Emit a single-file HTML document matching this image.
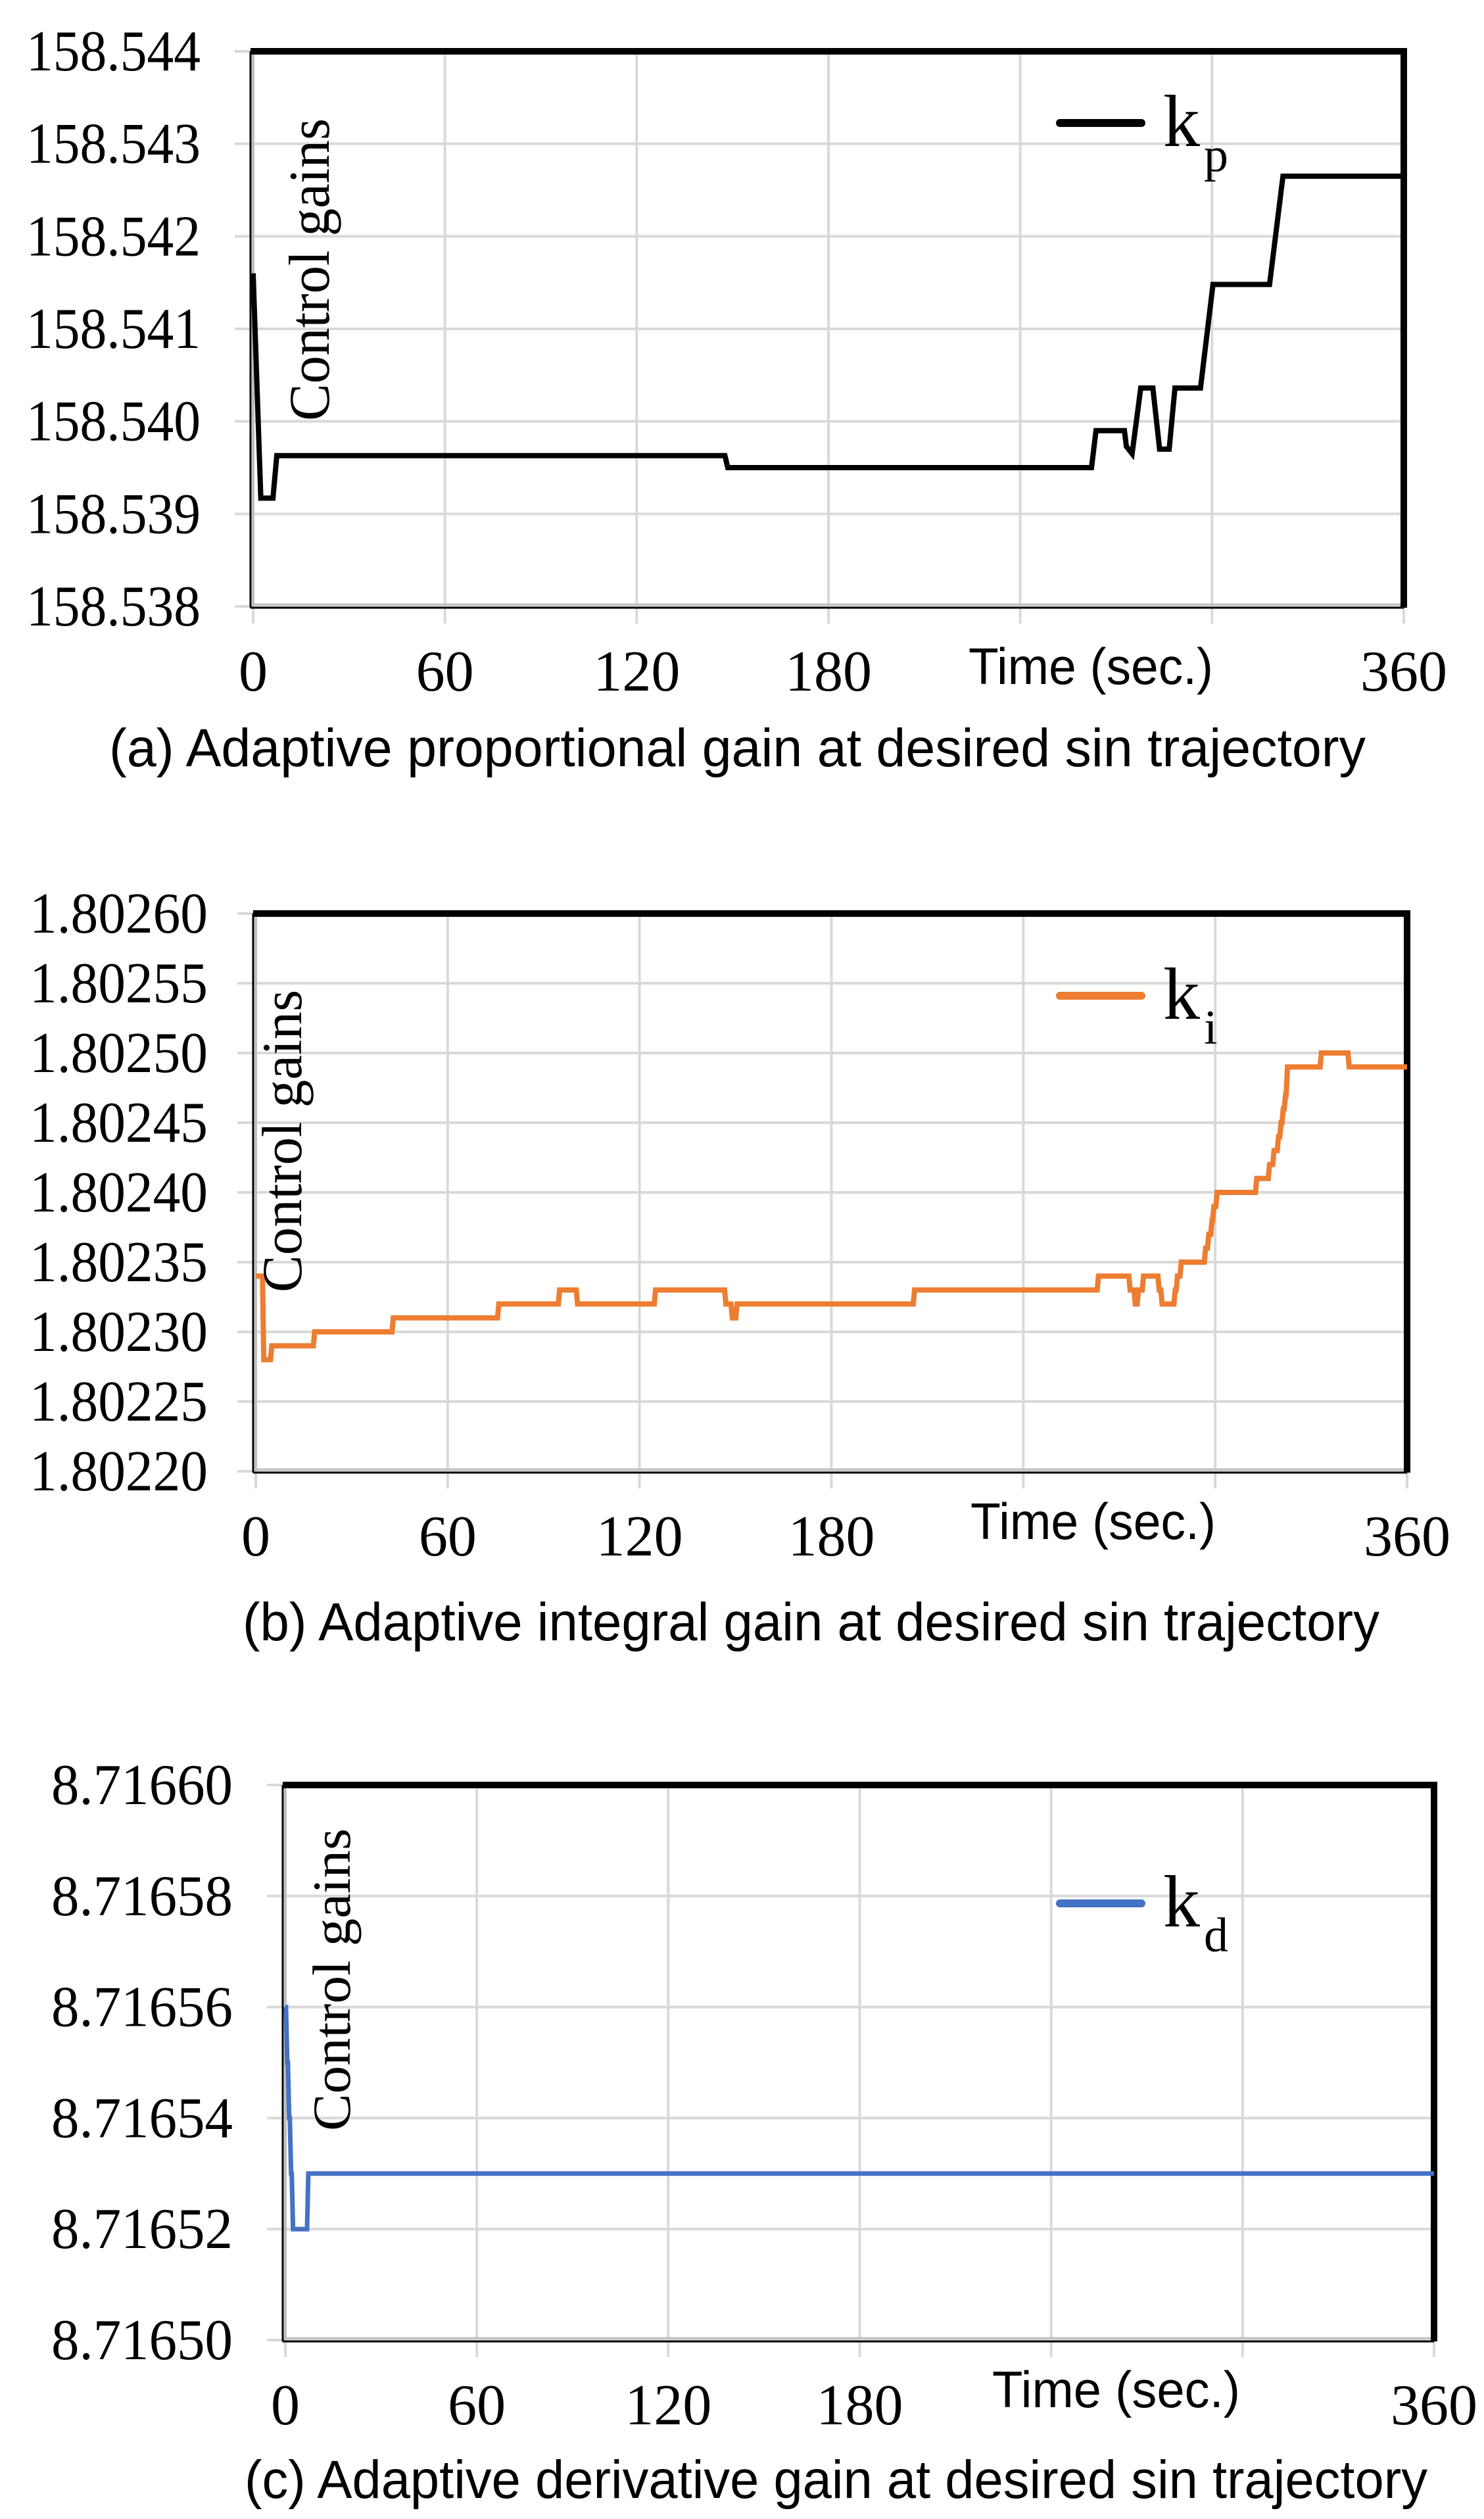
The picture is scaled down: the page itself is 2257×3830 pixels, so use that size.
<!DOCTYPE html>
<html><head><meta charset="utf-8"><style>
html,body{margin:0;padding:0;background:#fff;}
svg{display:block;}
</style></head>
<body>
<svg id="fig" width="2257" height="3830" viewBox="0 0 2257 3830" xmlns="http://www.w3.org/2000/svg">
<rect x="0" y="0" width="2257" height="3830" fill="#fff"/>
</svg>
<script>
// ---- chart (a) data: proportional gain kp ----
const kpTime = [0, 2.4, 6.2, 7.4, 147.6, 148.5, 262.3, 263.7, 272.6, 273.2, 275.0, 277.7, 281.5, 283.6, 286.6, 288.4, 296.4, 300.3, 318.0, 322.2, 360];
const kpValue = [158.5416, 158.53917, 158.53917, 158.53963, 158.53963, 158.5395, 158.5395, 158.5399, 158.5399, 158.53973, 158.53965, 158.54036, 158.54036, 158.5397, 158.5397, 158.54036, 158.54036, 158.54148, 158.54148, 158.54265, 158.54265];
const kpTicks = ["158.538","158.539","158.540","158.541","158.542","158.543","158.544"];

// ---- chart (b) data: integral gain ki (step series) ----
const kiTime = [0, 2.5, 5, 18.4, 43, 76, 95, 100.6, 125, 147, 149, 150.5, 206, 263.5, 273.4, 275.0, 276.0, 277.6, 282.5, 283.4, 287.5, 288.2, 289.4, 297, 298, 299, 299.6, 300.6, 313, 317, 318.4, 319.8, 320.6, 321.3, 322, 322.6, 333.2, 341.9, 360];
const kiValue = [1.80234, 1.80228, 1.80229, 1.80230, 1.80231, 1.80232, 1.80233, 1.80232, 1.80233, 1.80232, 1.80231, 1.80232, 1.80233, 1.80234, 1.80233, 1.80232, 1.80233, 1.80234, 1.80233, 1.80232, 1.80233, 1.80234, 1.80235, 1.80236, 1.80237, 1.80238, 1.80239, 1.80240, 1.80241, 1.80242, 1.80243, 1.80244, 1.80245, 1.80246, 1.80247, 1.80249, 1.80250, 1.80249, 1.80249];
const kiTicks = ["1.80220","1.80225","1.80230","1.80235","1.80240","1.80245","1.80250","1.80255","1.80260"];

// ---- chart (c) data: derivative gain kd ----
const kdTime = [0, 0.6, 1.2, 1.8, 2.4, 7.2, 360];
const kdValue = [8.71656, 8.71655, 8.71654, 8.71653, 8.71652, 8.71653, 8.71653];
const kdTicks = ["8.71650","8.71652","8.71654","8.71656","8.71658","8.71660"];

const xTicks = ["0","60","120","180","240","300","360"];
const xTickValues = [0,60,120,180,240,300,360];

const NS = "http://www.w3.org/2000/svg";
const svg = document.getElementById("fig");
function el(tag, attrs, parent, text){
  const e = document.createElementNS(NS, tag);
  for (const k in attrs) e.setAttribute(k, attrs[k]);
  if (text !== undefined) e.textContent = text;
  (parent || svg).appendChild(e);
  return e;
}

function drawChart(cfg){
  const g = el("g", {});
  
  
  const L=cfg.left, R=cfg.right, T=cfg.top, B=cfg.bottom;
  const yMin=parseFloat(cfg.ticks[0]), yMax=parseFloat(cfg.ticks[cfg.ticks.length-1]);
  const xs = t => L + (t/360)*(R-L);
  const ys = v => B - (v-yMin)/(yMax-yMin)*(B-T);

  cfg.ticks.forEach((tk,i)=>{
    const y = ys(parseFloat(tk));
    const gl = el("line",{x1:L-28,x2:R,y1:y,y2:y,stroke:"#d9d9d9","stroke-width":4},g);
    
    
    const lb = el("text",{x:cfg.labelRight-cfg.labelW,y:y+29,"font-family":"Liberation Serif, serif","font-size":88,fill:"#000",textLength:cfg.labelW,lengthAdjust:"spacingAndGlyphs"},g,tk);
    
    
  });
  xTickValues.forEach((tv,i)=>{
    const x = xs(tv);
    const gl = el("line",{x1:x,x2:x,y1:T,y2:B+26,stroke:"#d9d9d9","stroke-width":4},g);
    
    
    if (xTicks[i]==="240" || xTicks[i]==="300") return;
    const lb = el("text",{x:x,y:B+128,"text-anchor":"middle","font-family":"Liberation Serif, serif","font-size":88,fill:"#000"},g,xTicks[i]);
    
    
  });
  el("line",{x1:L-4,x2:L-4,y1:T,y2:B+2,stroke:"#000","stroke-width":3},g);
  el("line",{x1:L,x2:L,y1:T,y2:B,stroke:"#bfbfbf","stroke-width":4},g);
  el("line",{x1:L-4,x2:R,y1:B+2,y2:B+2,stroke:"#000","stroke-width":3},g);
  el("line",{x1:L,x2:R,y1:B-3,y2:B-3,stroke:"#bfbfbf","stroke-width":3},g);
  el("line",{x1:L-4,x2:R+5,y1:T,y2:T,stroke:"#000","stroke-width":10},g);
  el("line",{x1:R,x2:R,y1:T-5,y2:B+2,stroke:"#000","stroke-width":10},g);

  let d = "";
  cfg.time.forEach((t,i)=>{
    const x = xs(t), y = ys(cfg.values[i]);
    if (i===0) d += "M"+x+" "+y;
    else d += " L"+x+" "+y;
    if (i<cfg.time.length-1 && cfg.step) d += " L"+xs(cfg.time[i+1]-0.4)+" "+y;
  });
  const p = el("path",{d:d,fill:"none",stroke:cfg.color,"stroke-width":cfg.sw,"stroke-linejoin":"miter"},g);
  
  

  const lg = el("g",{},g);
  
  
  el("line",{x1:1612,x2:1736,y1:cfg.legendY,y2:cfg.legendY,stroke:cfg.color,"stroke-width":12,"stroke-linecap":"round"},lg);
  const kt = el("text",{x:1769,y:cfg.legendY+35,"font-family":"Liberation Serif, serif","font-size":112,fill:"#000"},lg,"k");
  el("tspan",{"font-size":74,dx:6,dy:38},kt,cfg.sub);

  const yt = el("text",{x:0,y:0,transform:"translate("+cfg.ytX+","+cfg.ytY+") rotate(-90)","text-anchor":"middle","font-family":"Liberation Serif, serif","font-size":cfg.ytSize,fill:"#000",textLength:460,lengthAdjust:"spacingAndGlyphs"},g,"Control gains");
  
  

  const xt = el("text",{x:cfg.timeX,y:cfg.timeY,"font-family":"Liberation Sans, sans-serif","font-size":78,fill:"#000",textLength:cfg.timeW,lengthAdjust:"spacingAndGlyphs"},g,"Time (sec.)");
  
  

  const cp = el("text",{x:cfg.capX,y:cfg.capY,"font-family":"Liberation Sans, sans-serif","font-size":82,fill:"#000",textLength:cfg.capW,lengthAdjust:"spacingAndGlyphs"},g,cfg.caption);
  
  
}

drawChart({name:"chart-a-proportional-gain",left:385,right:2135,top:78,bottom:922,ticks:kpTicks,labelRight:305,labelW:265,
  time:kpTime,values:kpValue,step:false,color:"#000",sw:8,seriesName:"kp-line",legendY:187,sub:"p",
  ytX:500,ytY:410,ytSize:88,timeX:1473,timeY:1040,timeW:372,capX:166,capY:1165,capW:1911,
  caption:"(a) Adaptive proportional gain at desired sin trajectory"});
drawChart({name:"chart-b-integral-gain",left:389,right:2140,top:1389,bottom:2237,ticks:kiTicks,labelRight:316,labelW:271,
  time:kiTime,values:kiValue,step:true,color:"#ED7D31",sw:8,seriesName:"ki-line",legendY:1514,sub:"i",
  ytX:458,ytY:1735,ytSize:86,timeX:1476,timeY:2340,timeW:373,capX:369,capY:2494,capW:1729,
  caption:"(b) Adaptive integral gain at desired sin trajectory"});
drawChart({name:"chart-c-derivative-gain",left:434,right:2181,top:2714,bottom:3558,ticks:kdTicks,labelRight:354,labelW:276,
  time:kdTime,values:kdValue,step:true,color:"#4472C4",sw:7,seriesName:"kd-line",legendY:2894,sub:"d",
  ytX:532,ytY:3010,ytSize:82,timeX:1509,timeY:3660,timeW:377,capX:372,capY:3798,capW:1799,
  caption:"(c) Adaptive derivative gain at desired sin trajectory"});
</script>
</body></html>
